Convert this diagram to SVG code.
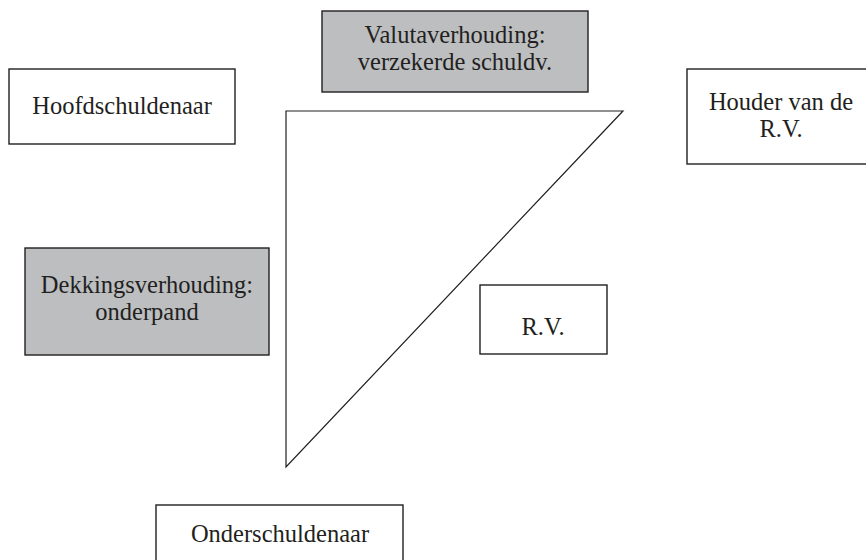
<svg xmlns="http://www.w3.org/2000/svg" width="866" height="560" viewBox="0 0 866 560">
  <style>
    .box { fill: #ffffff; stroke: #231f20; stroke-width: 1.4; }
    .shaded { fill: #bcbec0; }
    .lbl { font-family: "Liberation Serif", "Times New Roman", serif; font-size: 24.5px; fill: #231f20; text-anchor: middle; }
    .edge { fill: none; stroke: #231f20; stroke-width: 1.2; stroke-linejoin: miter; }
  </style>
  <rect width="866" height="560" fill="#ffffff"/>

  <g id="connectors">
    <path class="edge" d="M623,111 L286,111 L286,467 Z"/>
  </g>

  <g id="hoofdschuldenaar">
    <rect class="box" x="9" y="69" width="226" height="75"/>
    <text class="lbl" x="122" y="114">Hoofdschuldenaar</text>
  </g>

  <g id="valutaverhouding">
    <rect class="box shaded" x="322" y="11" width="266" height="81"/>
    <text class="lbl" x="455" y="43">Valutaverhouding:</text>
    <text class="lbl" x="455" y="70">verzekerde schuldv.</text>
  </g>

  <g id="houder">
    <rect class="box" x="687" y="69" width="190" height="95"/>
    <text class="lbl" x="781" y="110">Houder van de</text>
    <text class="lbl" x="781" y="137">R.V.</text>
  </g>

  <g id="dekkingsverhouding">
    <rect class="box shaded" x="25" y="248" width="244" height="107"/>
    <text class="lbl" x="147" y="293">Dekkingsverhouding:</text>
    <text class="lbl" x="147" y="320">onderpand</text>
  </g>

  <g id="rv">
    <rect class="box" x="480" y="285" width="127" height="69"/>
    <text class="lbl" x="543" y="335">R.V.</text>
  </g>

  <g id="onderschuldenaar">
    <rect class="box" x="156" y="505" width="247" height="70"/>
    <text class="lbl" x="280" y="542">Onderschuldenaar</text>
  </g>
</svg>
